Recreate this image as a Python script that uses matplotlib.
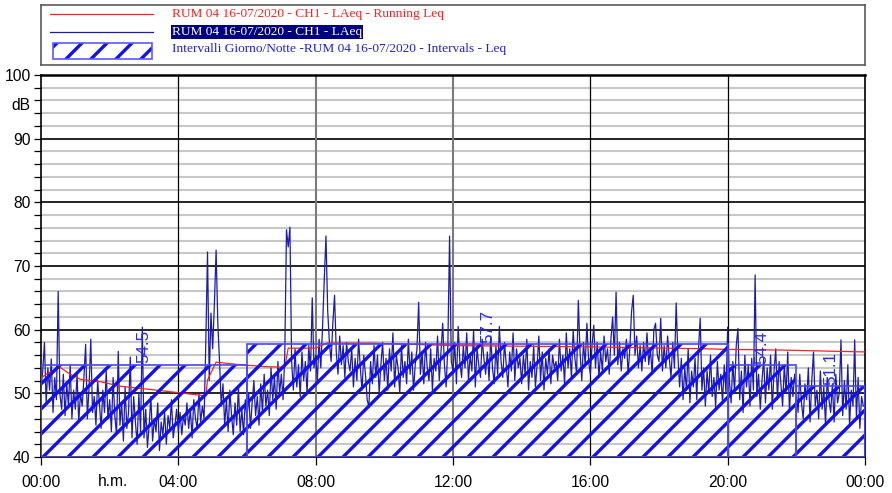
import numpy as np
import matplotlib
matplotlib.use("Agg")
import matplotlib.pyplot as plt
from matplotlib.patches import Rectangle

# ---------------- data ----------------
# LAeq, 3-minute samples (20 per hour), hours 0..23
laeq_by_hour = [
    [51.0, 53.5, 58.0, 48.5, 54.0, 50.5, 55.4, 47.0, 52.5, 49.0, 66.0, 50.0, 47.5, 53.0, 46.5, 51.5, 48.0, 54.5, 46.0, 50.5],
    [47.5, 53.0, 45.5, 50.0, 48.0, 52.5, 57.7, 46.0, 51.0, 58.5, 47.0, 49.5, 45.0, 52.0, 48.5, 44.5, 50.5, 47.0, 53.5, 46.0],
    [49.0, 44.0, 52.5, 46.5, 43.5, 56.6, 45.0, 48.5, 42.5, 51.0, 44.5, 47.0, 55.7, 43.0, 49.5, 45.5, 42.0, 50.0, 44.0, 60.4],
    [43.0, 47.5, 41.5, 45.0, 49.5, 42.5, 46.0, 44.0, 48.5, 41.0, 45.5, 43.5, 47.0, 42.0, 46.5, 44.5, 49.0, 43.0, 45.0, 47.5],
    [44.0, 47.0, 43.5, 46.5, 45.0, 48.5, 44.5, 47.5, 43.0, 49.0, 46.0, 44.5, 50.0, 45.5, 48.0, 46.0, 58.0, 72.2, 52.0, 62.6],
    [57.0, 64.0, 72.5, 61.0, 55.0, 48.0, 51.5, 45.0, 49.0, 44.0, 50.5, 46.5, 43.5, 48.5, 45.0, 51.0, 44.0, 47.5, 43.5, 49.0],
    [46.0, 50.0, 44.5, 48.5, 52.0, 46.5, 49.5, 45.0, 51.5, 47.0, 53.0, 48.0, 50.5, 46.5, 54.0, 49.0, 52.5, 47.5, 55.0, 50.0],
    [53.0, 49.0, 56.0, 75.7, 73.0, 76.1, 55.0, 50.5, 57.0, 51.0, 54.5, 49.5, 56.5, 52.0, 55.0, 50.0, 57.5, 53.5, 65.0, 54.0],
    [56.0, 52.0, 58.5, 54.0, 60.4, 67.8, 74.7, 63.0, 58.0, 55.0, 61.0, 65.4, 56.5, 53.0, 59.0, 54.5, 57.5, 52.5, 58.0, 55.0],
    [53.5, 57.0, 51.0, 55.5, 52.0, 58.5, 54.0, 50.5, 56.0, 53.0, 49.0, 47.8, 55.0, 51.5, 57.5, 52.5, 56.0, 50.0, 54.5, 58.0],
    [52.0, 55.5, 50.5, 57.0, 53.5, 59.5, 51.0, 56.0, 54.0, 50.0, 57.5, 52.5, 55.0, 51.5, 58.5, 53.0, 56.5, 50.5, 54.5, 57.0],
    [64.3, 53.0, 56.5, 51.5, 58.0, 54.0, 52.0, 57.0, 50.5, 55.5, 53.5, 59.0, 52.0, 56.5, 61.0, 54.5, 51.0, 57.5, 74.7, 55.0],
    [53.5, 58.0, 51.5, 60.5, 55.0, 52.5, 57.5, 54.0, 59.5, 52.0, 56.0, 53.5, 60.0, 51.0, 57.0, 54.5, 52.5, 58.5, 55.5, 53.0],
    [56.5, 52.0, 59.0, 54.0, 51.5, 57.5, 53.0, 60.5, 55.0, 52.5, 58.0, 54.5, 51.0, 56.5, 53.5, 59.5, 52.0, 57.0, 54.0, 55.5],
    [51.5, 56.0, 53.0, 58.5, 50.5, 55.0, 52.5, 57.5, 51.0, 54.5, 59.0, 52.0, 56.5, 50.5, 55.5, 53.0, 57.0, 51.5, 56.0, 54.0],
    [55.0, 52.0, 58.5, 53.5, 56.0, 51.5, 59.5, 54.0, 57.0, 52.5, 60.0, 55.5, 53.0, 64.6, 56.5, 52.0, 58.0, 54.5, 61.0, 55.0],
    [53.0, 57.5, 60.7, 54.0, 58.0, 52.5, 56.5, 53.5, 59.0, 55.0, 57.0, 53.0, 58.5, 62.0, 56.0, 65.9, 54.5, 58.0, 53.5, 57.0],
    [55.5, 58.5, 53.0, 57.0, 62.8, 65.4, 56.0, 59.0, 54.0, 57.5, 53.5, 58.0, 55.0, 59.5, 54.5, 57.0, 53.0, 60.0, 61.0, 56.0],
    [55.0, 61.8, 53.5, 57.5, 54.0, 59.0, 55.5, 52.5, 58.0, 54.0, 64.2, 56.0, 51.0, 55.5, 49.0, 54.0, 50.5, 57.0, 48.5, 53.5],
    [51.0, 55.5, 49.0, 57.0, 61.8, 50.5, 54.0, 48.0, 53.5, 50.0, 56.0, 49.5, 52.5, 47.8, 55.0, 50.5, 53.0, 48.5, 54.5, 50.0],
    [60.4, 52.0, 48.5, 55.0, 50.0, 57.5, 60.2, 49.0, 53.5, 47.0, 56.0, 51.0, 54.5, 48.0, 55.5, 50.5, 68.6, 49.5, 53.0, 47.5],
    [52.0, 55.5, 48.5, 54.0, 50.5, 56.0, 47.5, 53.5, 57.0, 49.0, 55.0, 51.5, 48.0, 54.5, 50.0, 56.5, 47.0, 52.5, 49.5, 53.0],
    [50.5, 47.0, 53.0, 48.5, 46.0, 51.5, 49.0, 54.0, 45.5, 52.0, 56.5, 48.0, 50.5, 46.0, 53.5, 47.5, 51.0, 45.0, 52.5, 49.0],
    [47.0, 51.5, 45.5, 53.0, 48.5, 50.0, 58.4, 46.5, 52.0, 47.5, 54.5, 45.0, 50.5, 48.0, 58.4, 46.0, 52.5, 44.5, 49.5, 48.0],
]

# Running Leq (hours, dB)
running_t = [0.0, 0.15, 0.55, 0.85, 1.15, 1.75, 2.33, 3.2, 4.0, 4.8, 4.85, 5.1, 5.6, 6.5, 7.1, 7.2,
             8.0, 8.33, 9.6, 12.0, 16.0, 19.3, 20.0, 21.5, 24.0]
running_v = [52.4, 53.0, 54.1, 53.0, 52.2, 51.8, 51.1, 50.6, 50.1, 49.6, 52.1, 54.9, 54.6, 54.2, 54.1, 57.1,
             57.1, 57.9, 57.9, 57.5, 57.3, 57.0, 56.9, 56.8, 56.5]

# Day/Night intervals
interval_start = [0, 6, 20, 22]
interval_end = [6, 20, 22, 24]
interval_leq = [54.5, 57.7, 54.4, 51.1]
interval_labels = ["54.5", "57.7", "54.4", "51.1"]

xtick_pos = [0, 4, 8, 12, 16, 20, 24]
xtick_labels = ["00:00", "04:00", "08:00", "12:00", "16:00", "20:00", "00:00"]
ytick_major = [40, 50, 60, 70, 80, 90, 100]

legend_labels = ["RUM 04 16-07/2020 - CH1 - LAeq - Running Leq",
                 "RUM 04 16-07/2020 - CH1 - LAeq",
                 "Intervalli Giorno/Notte -RUM 04 16-07/2020 - Intervals - Leq"]

# ---------------- figure ----------------
DPI = 150
W, H = 892, 493
plt.rcParams['font.family'] = ['Liberation Sans', 'DejaVu Sans']
plt.rcParams['hatch.linewidth'] = 1.6

fig = plt.figure(figsize=(W / DPI, H / DPI), dpi=DPI)
ax = fig.add_axes([41 / W, 1 - 457 / H, 824 / W, 382 / H])

laeq = np.array(laeq_by_hour).ravel()
t = np.arange(len(laeq)) * (24.0 / len(laeq))

ax.set_xlim(0, 24)
ax.set_ylim(40, 100)

# grid
for y in np.arange(42, 100, 2):
    if y % 10 != 0:
        ax.axhline(y, color='#c8c8c8', lw=1.0, zorder=0.5)
for y in ytick_major[1:-1]:
    ax.axhline(y, color='black', lw=0.8, zorder=0.6)
for x in xtick_pos[1:-1]:
    if x in (8, 12):
        ax.axvline(x, color='#7a7a7a', lw=1.0, zorder=0.6)
    else:
        ax.axvline(x, color='black', lw=0.6, zorder=0.6)

# data
ax.plot(t, laeq, color='#1c1ca8', lw=0.6, zorder=2)
ax.plot(running_t, running_v, color='#ff2020', lw=0.6, zorder=3)

# intervals (hatched)
starts = np.array(interval_start)
ends = np.array(interval_end)
leqs = np.array(interval_leq)
ax.bar(starts, leqs - 40, bottom=40, width=ends - starts, align='edge',
       fill=False, hatch='//', edgecolor='#1010f0', linewidth=0, zorder=4)
ax.bar(starts, leqs - 40, bottom=40, width=ends - starts, align='edge',
       fill=False, edgecolor='#4646ff', linewidth=0.8, zorder=4.5)
for s, e, v, lab in zip(starts, ends, leqs, interval_labels):
    ax.text((s + e) / 2, v + 0.2, lab, rotation=90, ha='center', va='bottom',
            color='#2b2be6', fontsize=8.2, zorder=6)

# axes styling
ax.set_xticks(xtick_pos)
ax.set_xticklabels(xtick_labels, fontsize=7.5)
ax.set_yticks(ytick_major)
ax.set_yticklabels([str(v) for v in ytick_major], fontsize=7.5)
ax.set_yticks(np.arange(40, 101, 2), minor=True)
ax.tick_params(axis='both', which='major', direction='out', length=3.5, width=0.6, pad=1.5)
ax.tick_params(axis='y', which='minor', direction='out', length=3.5, width=0.6)
ax.tick_params(axis='x', which='major', length=4, pad=4.5)
for sp in ax.spines.values():
    sp.set_color('black')
    sp.set_linewidth(0.8)
ax.spines['top'].set_linewidth(1.2)

fig.text(113 / W, 1 - 481 / H, "h.m.", fontsize=7.5, ha='center', va='center')
fig.text(21 / W, 1 - 106 / H, "dB", fontsize=7.5, ha='center', va='center')

# legend box
lax = fig.add_axes([41 / W, 1 - 65 / H, 824 / W, 60 / H])
lax.set_xlim(41, 865)
lax.set_ylim(65, 5)
lax.set_xticks([])
lax.set_yticks([])
for sp in lax.spines.values():
    sp.set_color('#5a5a5a')
    sp.set_linewidth(0.8)

serif = ['Liberation Serif', 'DejaVu Serif']
lax.plot([50, 153], [14, 14], color='#ff2020', lw=0.6)
lax.text(172, 14, legend_labels[0], color='#ff2020', fontsize=6.4, family=serif, va='center', ha='left')
lax.plot([50, 153], [32, 32], color='#1c1ca8', lw=0.6)
lax.text(172, 32, legend_labels[1], color='white', fontsize=6.4, family=serif, va='center', ha='left',
         bbox=dict(facecolor='#000080', edgecolor='none', pad=0.6))
lax.add_patch(Rectangle((53, 43), 99, 16, fill=False, hatch='//', edgecolor='#1010f0', linewidth=0))
lax.add_patch(Rectangle((53, 43), 99, 16, fill=False, edgecolor='#5a5aff', linewidth=0.8))
lax.text(172, 49, legend_labels[2], color='#2020e0', fontsize=6.4, family=serif, va='center', ha='left')

fig.savefig("out.png", dpi=DPI)
